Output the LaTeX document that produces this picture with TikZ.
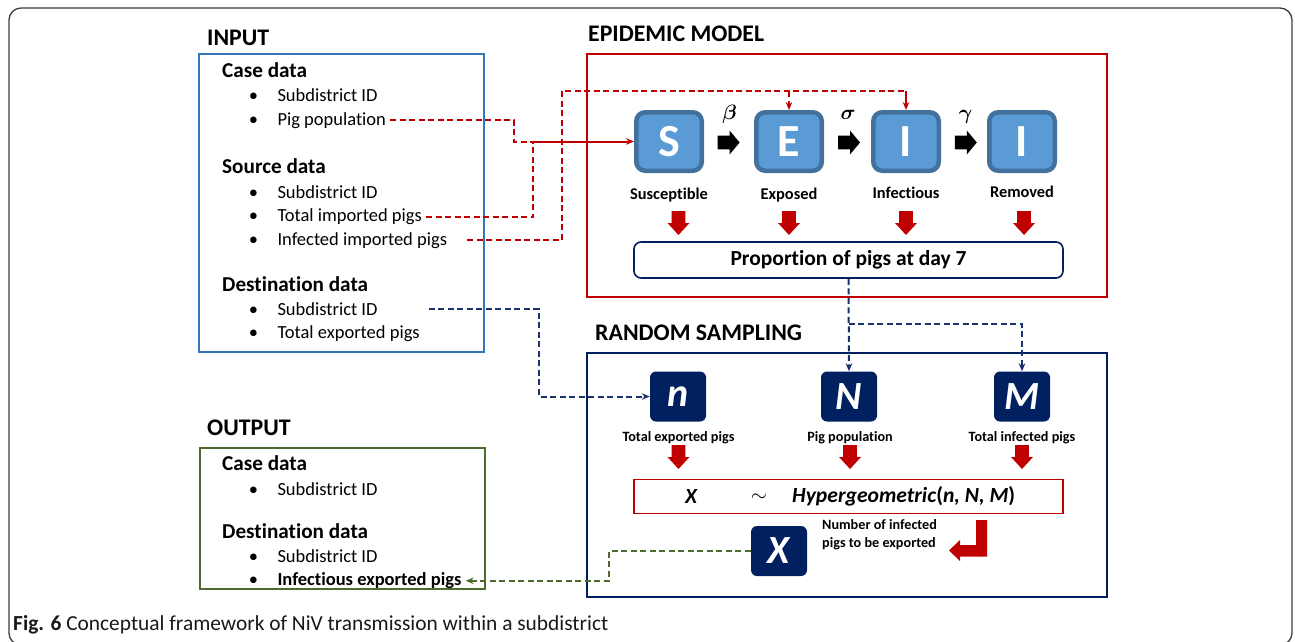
\documentclass[tikz,border=0pt]{standalone}
\usepackage{fontspec}
\setmainfont{Carlito}[Ligatures=NoCommon]
\usetikzlibrary{arrows.meta,calc}
\definecolor{inblue}{RGB}{52,120,190}
\definecolor{redc}{RGB}{192,0,0}
\definecolor{navybox}{RGB}{0,32,96}
\definecolor{navyline}{RGB}{25,50,110}
\definecolor{seirfill}{RGB}{91,155,213}
\definecolor{seirborder}{RGB}{65,113,156}
\definecolor{greenc}{RGB}{78,106,46}
\definecolor{framec}{RGB}{60,60,60}
\begin{document}
\begin{tikzpicture}[x=1pt,y=-1pt,
  txt/.style={anchor=base west, inner sep=0pt, font=\fontsize{18.5}{22}\selectfont},
  bul/.style={anchor=base, inner sep=0pt, font=\fontsize{18.5}{22}\selectfont},
  hd/.style={anchor=base west, inner sep=0pt, font=\fontsize{21.2}{24}\selectfont\bfseries},
  ttl/.style={anchor=base west, inner sep=0pt, font=\fontsize{23.8}{26}\selectfont\bfseries},
  panel/.style={draw, line width=2pt, anchor=north west, inner sep=0pt},
  seir/.style={draw=seirborder, fill=seirfill, line width=4.5pt, rounded corners=9pt,
    minimum width=65.5pt, minimum height=58.5pt, inner sep=0pt, text=white,
    font=\fontsize{46}{50}\selectfont\bfseries},
  seirlbl/.style={anchor=base, inner sep=0pt, font=\fontsize{16.4}{18}\selectfont\bfseries},
  greek/.style={anchor=base, inner sep=0pt, font=\fontsize{22}{24}\selectfont\boldmath},
  var/.style={fill=navybox, rounded corners=6pt, minimum width=56pt, minimum height=50pt,
    inner sep=0pt, text=white, font=\fontsize{40}{44}\selectfont\bfseries\itshape},
  varlbl/.style={anchor=base, inner sep=0pt, font=\fontsize{14.2}{16}\selectfont\bfseries},
  reddash/.style={draw=redc, line width=2pt, dash pattern=on 6pt off 3.5pt},
  redsolid/.style={draw=redc, line width=2pt},
  navydash/.style={draw=navyline, line width=2pt, dash pattern=on 6pt off 3.5pt},
  greendash/.style={draw=greenc, line width=2.2pt, dash pattern=on 6pt off 3.5pt},
  tipr/.style={-{Stealth[length=8pt,width=6.5pt]}},
  rarrow/.pic={\fill[black] (0,-6.8) -- (12,-6.8) -- (12,-12) -- (22,0) -- (12,12) -- (12,6.8) -- (0,6.8) -- cycle;},
  darrow/.pic={\fill[redc] (-6.8,0) -- (6.8,0) -- (6.8,12) -- (11,12) -- (0,24) -- (-11,12) -- (-6.8,12) -- cycle;}
]
\clip (0,0) rectangle (1295,641);
\fill[white] (0,0) rectangle (1295,641);
\draw[framec, line width=1.3pt, rounded corners=12pt] (9,8) rectangle (1292,645);

% ---------------- INPUT ----------------
\node[ttl] (inhead) at (207,45) {INPUT};
\node[panel, draw=inblue, minimum width=285pt, minimum height=298pt] (inbox) at (198,53) {};
\node[hd] (incase) at (222,77) {Case data};
\node[bul] (b1) at (253.5,101.7) {•};
\node[txt] (csub) at (277.3,101.7) {Subdistrict ID};
\node[bul] (b2) at (253.5,125) {•};
\node[txt] (pigpop) at (277.3,125) {Pig population};
\node[hd] (insrc) at (222,173.3) {Source data};
\node[bul] (b3) at (253.5,198.3) {•};
\node[txt] (ssub) at (277.3,198.3) {Subdistrict ID};
\node[bul] (b4) at (253.5,221.7) {•};
\node[txt] (totimp) at (277.3,221.7) {Total imported pigs};
\node[bul] (b5) at (253.5,245) {•};
\node[txt] (infimp) at (277.3,245) {Infected imported pigs};
\node[hd] (indst) at (222,291.7) {Destination data};
\node[bul] (b6) at (253.5,315.5) {•};
\node[txt] (dsub) at (277.3,315.5) {Subdistrict ID};
\node[bul] (b7) at (253.5,338.8) {•};
\node[txt] (totexp) at (277.3,338.8) {Total exported pigs};

% ---------------- EPIDEMIC MODEL ----------------
\node[ttl] (ephead) at (588,41) {EPIDEMIC MODEL};
\node[panel, draw=redc, minimum width=520pt, minimum height=243pt] (epbox) at (586,53) {};
\node[seir] (S) at (669,141.5) {S};
\node[seir] (E) at (789,141.5) {E};
\node[seir] (I) at (906,141.5) {I};
\node[seir] (R) at (1022,141.5) {I};
\pic at (717.6,142.5) {rarrow};
\pic at (838,142.5) {rarrow};
\pic at (954.8,142.5) {rarrow};
\node[greek] (beta) at (729.5,119) {$\beta$};
\node[greek] (sigma) at (848,119) {$\sigma$};
\node[greek] (gamma) at (965.7,119) {$\gamma$};
\node[seirlbl] (lS) at (669,199.5) {Susceptible};
\node[seirlbl] (lE) at (789,199) {Exposed};
\node[seirlbl] (lI) at (906,198.5) {Infectious};
\node[seirlbl] (lR) at (1022,197.5) {Removed};
\pic at (678.5,211) {darrow};
\pic at (789,211) {darrow};
\pic at (906,211) {darrow};
\pic at (1024,211) {darrow};
\node[draw=navybox, line width=1.6pt, rounded corners=7pt, minimum width=429pt, minimum height=36pt,
  inner sep=0pt, font=\fontsize{21.5}{24}\selectfont\bfseries] (prop) at (848.5,260) {Proportion of pigs at day 7};

% red connectors
\coordinate (jx) at (533.3,141.5);
\coordinate (topline) at (0,91);
\draw[reddash] ([xshift=4pt]pigpop.east) -| (514.3,141.5) -- (jx);
\draw[reddash] ([xshift=4pt]totimp.east) -| (jx);
\draw[redsolid, tipr] (jx) -- (S.west);
\draw[reddash] ([xshift=20pt]infimp.east) -| (561.7,91) -| (I.north);
\draw[redsolid, tipr] (I.north |- topline) -- (I.north);
\draw[reddash, tipr] (E.north |- topline) -- (E.north);

% ---------------- RANDOM SAMPLING ----------------
\node[ttl] (rshead) at (595,340) {RANDOM SAMPLING};
\node[panel, draw=navybox, minimum width=520pt, minimum height=244pt] (rsbox) at (586,352) {};
\node[var] (nn) at (678,396.5) {n};
\node[var] (NN) at (849,396.5) {N};
\node[var] (MM) at (1022,396.5) {M};
\node[varlbl] (lnn) at (678.5,441) {Total exported pigs};
\node[varlbl] (lNN) at (850,441) {Pig population};
\node[varlbl] (lMM) at (1022,441) {Total infected pigs};
\pic at (678.5,445) {darrow};
\pic at (850,445) {darrow};
\pic at (1022,445) {darrow};
\node[draw=redc, line width=1.6pt, minimum width=429pt, minimum height=34pt, inner sep=0pt] (hyper) at (848.5,496.5) {};
\node[inner sep=0pt, font=\fontsize{21.6}{24}\selectfont\bfseries\itshape] (hx) at (691,496.5) {X};
\node[inner sep=0pt, font=\fontsize{20}{24}\selectfont] (hsim) at (759,498) {$\sim$};
\node[anchor=west, inner sep=0pt, font=\fontsize{21.6}{24}\selectfont\bfseries] (hyp) at (792,496.5)
  {\textit{Hypergeometric}(\textit{n, N, M})};
\node[var] (X) at (779,551) {X};
\node[anchor=base west, inner sep=0pt, align=left, font=\fontsize{14.2}{17.5}\selectfont\bfseries] (xlbl) at (822,547)
  {Number of infected\\pigs to be exported};
\fill[redc] (976,520) -- (987,520) -- (987,556.5) -- (960,556.5) -- (960,561) -- (949,550.5)
  -- (960,540) -- (960,545) -- (976,545) -- cycle;

% navy connectors
\coordinate (brl) at (0,324);
\draw[navydash, tipr] (prop.south) -- (NN.north);
\draw[navydash, tipr] (prop.south |- brl) -| (MM.north);
\draw[navydash, tipr] ([xshift=51pt]dsub.east) -| (539,396.5) -- (nn.west);

% ---------------- OUTPUT ----------------
\node[ttl] (outhead) at (207,435) {OUTPUT};
\node[panel, draw=greenc, minimum width=285pt, minimum height=141pt] (outbox) at (199,447) {};
\node[hd] (ocase) at (222,470.7) {Case data};
\node[bul] (ob1) at (253.5,495) {•};
\node[txt] (osub) at (277.3,495) {Subdistrict ID};
\node[hd] (odst) at (222,538.3) {Destination data};
\node[bul] (ob2) at (253.5,562.7) {•};
\node[txt] (odsub) at (277.3,562.7) {Subdistrict ID};
\node[bul] (ob3) at (253.5,585.7) {•};
\node[txt, font=\fontsize{18.5}{22}\selectfont\bfseries] (infexp) at (277.3,585.7) {Infectious exported pigs};
\coordinate (gx) at (609,0);
\draw[greendash, tipr] (X.west) -| (gx |- infexp.east) -- ([xshift=4pt]infexp.east);

% caption
\node[anchor=base west, inner sep=0pt, text=black!90, font=\fontsize{21.4}{24}\selectfont] (cap) at (13,630)
  {\textbf{Fig. 6} Conceptual framework of NiV transmission within a subdistrict};
\end{tikzpicture}
\end{document}
